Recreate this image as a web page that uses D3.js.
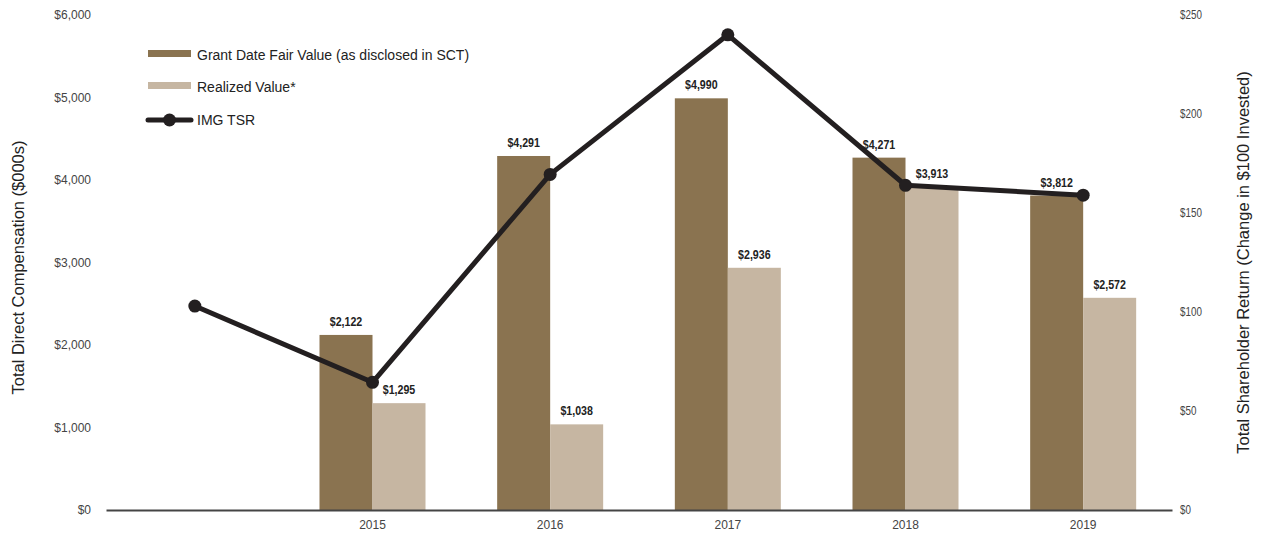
<!DOCTYPE html>
<html>
<head>
<meta charset="utf-8">
<script src="https://cdn.jsdelivr.net/npm/d3@7"></script>
<style>
  html, body { margin: 0; padding: 0; background: #fff; }
  svg { display: block; }
</style>
</head>
<body>
<svg id="chart" width="1266" height="533"></svg>
<script>
// ---- data ----
const years = ["2014", "2015", "2016", "2017", "2018", "2019"];
const yearLabels = ["", "2015", "2016", "2017", "2018", "2019"];
const grantValues = [null, 2122, 4291, 4990, 4271, 3812];
const realizedValues = [null, 1295, 1038, 2936, 3913, 2572];
const tsrValues = [103, 64.5, 169.5, 240, 164, 159];
const leftTicks = [0, 1000, 2000, 3000, 4000, 5000, 6000];
const rightTicks = [0, 50, 100, 150, 200, 250];
const seriesNames = ["Grant Date Fair Value (as disclosed in SCT)", "Realized Value*", "IMG TSR"];

// ---- styles ----
const cDark = "#8a7350", cLight = "#c6b6a2", cLine = "#231f20";
const sans = "'Liberation Sans', Arial, sans-serif";
const squeeze = 0.82; // condensed look

const svg = d3.select("#chart");
const x = d3.scaleBand().domain(years).range([106, 1172]).paddingInner(0).paddingOuter(0);
const xi = d3.scaleBand().domain(["grant", "realized"]).range([0, 106]);
const yL = d3.scaleLinear().domain([0, 6000]).range([510, 15]);
const yR = d3.scaleLinear().domain([0, 250]).range([510, 15]);
const groupOffset = (x.bandwidth() - 106) / 2;

// bars
const bars = [];
years.forEach((yr, i) => {
  if (grantValues[i] != null) bars.push({yr, key: "grant", v: grantValues[i]});
  if (realizedValues[i] != null) bars.push({yr, key: "realized", v: realizedValues[i]});
});
const gBars = svg.append("g");
gBars.selectAll("rect").data(bars).join("rect")
  .attr("x", d => x(d.yr) + groupOffset + xi(d.key))
  .attr("width", xi.bandwidth())
  .attr("y", d => yL(d.v))
  .attr("height", d => yL(0) - yL(d.v))
  .attr("fill", d => d.key === "grant" ? cDark : cLight);

gBars.selectAll("text").data(bars).join("text")
  .attr("transform", d => `translate(${x(d.yr) + groupOffset + xi(d.key) + xi.bandwidth() / 2},${yL(d.v) - 9}) scale(${squeeze},1)`)
  .attr("text-anchor", "middle")
  .attr("font-family", sans).attr("font-weight", "bold").attr("font-size", 13)
  .attr("fill", "#222")
  .text(d => "$" + d3.format(",")(d.v));

// axis baseline
const xAxis = d3.axisBottom(x).tickSize(0).tickPadding(10).tickFormat((d, i) => yearLabels[i]);
const gx = svg.append("g").attr("transform", `translate(0,${yL(0)})`).call(xAxis);
gx.select(".domain").attr("stroke", "#444").attr("stroke-width", 2);
gx.selectAll("text").attr("font-family", sans).attr("font-size", 12).attr("fill", "#444");

// left axis
const gl = svg.append("g").attr("transform", "translate(91,0)")
  .call(d3.axisLeft(yL).tickValues(leftTicks).tickSize(0).tickPadding(0).tickFormat(d => "$" + d3.format(",")(d)));
gl.select(".domain").remove();
gl.selectAll("text").attr("font-family", sans).attr("font-size", 12).attr("fill", "#444");

// right axis
const gr = svg.append("g").attr("transform", "translate(1180,0)")
  .call(d3.axisRight(yR).tickValues(rightTicks).tickSize(0).tickPadding(0).tickFormat(d => "$" + d));
gr.select(".domain").remove();
gr.selectAll("text").attr("x", 0).attr("transform", `scale(${squeeze},1)`)
  .attr("font-family", sans).attr("font-size", 12).attr("fill", "#444");

// axis titles
svg.append("text")
  .attr("transform", `translate(24,${(yL(0) + yL(6000)) / 2 + 5}) rotate(-90)`)
  .attr("text-anchor", "middle")
  .attr("font-family", sans).attr("font-size", 16.5).attr("fill", "#222")
  .text("Total Direct Compensation ($000s)");
svg.append("text")
  .attr("transform", `translate(1249,${(yR(0) + yR(250)) / 2}) rotate(-90)`)
  .attr("text-anchor", "middle")
  .attr("font-family", sans).attr("font-size", 16.5).attr("fill", "#222")
  .text("Total Shareholder Return (Change in $100 Invested)");

// TSR line
const cx = (yr) => x(yr) + x.bandwidth() / 2;
const line = d3.line().x((d, i) => cx(years[i])).y(d => yR(d));
svg.append("path").datum(tsrValues)
  .attr("d", line).attr("fill", "none")
  .attr("stroke", cLine).attr("stroke-width", 5).attr("stroke-linejoin", "round");
svg.append("g").selectAll("circle").data(tsrValues).join("circle")
  .attr("cx", (d, i) => cx(years[i])).attr("cy", d => yR(d)).attr("r", 6.5).attr("fill", cLine);

// legend
const lg = svg.append("g").attr("transform", "translate(148,0)");
lg.append("rect").attr("x", 0).attr("y", 50).attr("width", 43).attr("height", 7).attr("fill", cDark);
lg.append("rect").attr("x", 0).attr("y", 82).attr("width", 43).attr("height", 7).attr("fill", cLight);
lg.append("line").attr("x1", 0).attr("x2", 43).attr("y1", 120).attr("y2", 120)
  .attr("stroke", cLine).attr("stroke-width", 5).attr("stroke-linecap", "round");
lg.append("circle").attr("cx", 21.5).attr("cy", 120).attr("r", 6.5).attr("fill", cLine);
[55, 87, 120].forEach((yy, i) => {
  lg.append("text").attr("x", 49).attr("y", yy).attr("dy", "0.35em")
    .attr("font-family", sans).attr("font-size", 14).attr("fill", "#222")
    .text(seriesNames[i]);
});
</script>
</body>
</html>
